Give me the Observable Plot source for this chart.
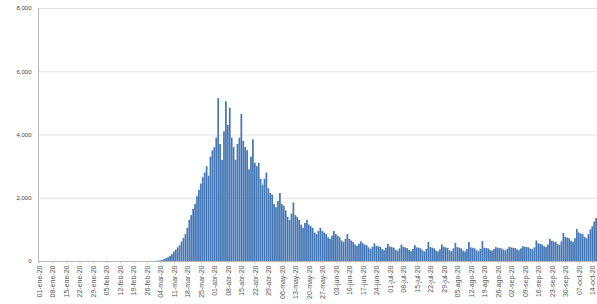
<!DOCTYPE html>
<html>
<head>
<meta charset="utf-8">
<script src="https://cdn.jsdelivr.net/npm/d3@7"></script>
<script src="https://cdn.jsdelivr.net/npm/@observablehq/plot@0.6"></script>
<style>
html,body{margin:0;padding:0;background:#fff;}
</style>
</head>
<body>
<div id="chart"></div>
<script>
// Daily values, one per day starting 01-ene-20
const values = [
  // days 0-57
  0,0,0,0,0,0,0,0,0,0, 0,0,0,0,0,0,0,0,0,0,
  0,0,0,0,0,0,0,0,0,0, 0,0,0,0,0,0,0,0,0,0,
  0,0,0,0,0,0,0,0,0,0, 0,0,0,0,0,0,0,0,
  // days 58-89
  1,2,5,8,12,20,35,60,90,120,160,220,300,360,430,500,620,730,850,1050,
  1300,1450,1650,1800,2050,2250,2450,2650,2800,3000,2700,3300,
  // days 90-129
  3500,3600,3900,5150,3700,3200,4100,5050,4300,4850,
  3900,3600,3200,3700,3900,4650,3800,3600,3500,2900,
  3300,3850,3100,3000,3100,2600,2400,2600,2800,2300,
  2150,2100,1800,1700,1900,2150,1800,1750,1600,1400,
  // days 130-169
  1300,1500,1850,1450,1400,1300,1150,1050,1200,1300,
  1150,1100,1050,900,850,950,1050,950,900,850,
  750,700,800,950,850,800,750,650,600,700,
  850,700,650,600,520,480,550,620,560,520,
  // days 170-209
  500,430,380,450,560,480,470,450,380,340,
  420,540,460,440,420,360,320,400,520,450,
  430,410,350,310,380,500,430,420,400,340,
  300,380,600,440,420,400,330,300,370,520,
  // days 210-249
  450,430,410,340,310,400,570,440,420,400,
  330,300,380,600,430,420,400,340,310,380,
  630,420,410,400,350,320,380,440,420,410,
  400,360,330,390,450,430,420,410,370,340,
  // days 250-289
  400,470,450,440,430,390,370,430,650,560,
  540,520,470,440,520,700,640,620,600,540,
  510,620,890,760,740,720,640,600,720,1010,
  900,870,850,760,720,850,1000,1100,1250,1360
];

const monthNames = ["ene","feb","mar","abr","may","jun","jul","ago","sep","oct","nov","dic"];
const startDate = Date.UTC(2020, 0, 1);
const fmt = t => {
  const d = new Date(t);
  return String(d.getUTCDate()).padStart(2, "0") + "-" + monthNames[d.getUTCMonth()] + "-" + String(d.getUTCFullYear()).slice(2);
};
const days = values.map((_, i) => fmt(startDate + i * 86400000));
const tickLabels = days.filter((_, i) => i % 7 === 0);
const yTicks = [0, 2000, 4000, 6000, 8000];
const yFmt = d3.format(",");

const data = days.map((day, i) => ({day, value: values[i]}));

const chart = Plot.plot({
  width: 597,
  height: 304,
  marginLeft: 38,
  marginRight: 0,
  marginTop: 8,
  marginBottom: 43,
  style: {background: "#fff", fontFamily: "Liberation Sans, Arial, sans-serif", color: "#444"},
  x: {type: "band", domain: days, paddingInner: 0.1, paddingOuter: 0, axis: null, label: null},
  y: {domain: [0, 8000], axis: null, label: null},
  marks: [
    Plot.gridY(yTicks.slice(1), {stroke: "#e2e2e2", strokeOpacity: 1}),
    Plot.barY(data, {x: "day", y: "value", fill: "#4678b6"}),
    Plot.ruleY([0], {stroke: "#b8b8b8"}),
    Plot.frame({anchor: "left", stroke: "#b8b8b8"}),
    Plot.axisY(yTicks, {label: null, tickSize: 0, tickPadding: 7, fontSize: 6, tickFormat: yFmt, fill: "#444"}),
    Plot.axisX(tickLabels, {label: null, tickRotate: -90, tickSize: 2, tickPadding: 2, fontSize: 7, stroke: "#b8b8b8", fill: "#555"})
  ]
});
document.getElementById("chart").appendChild(chart);
</script>
</body>
</html>
